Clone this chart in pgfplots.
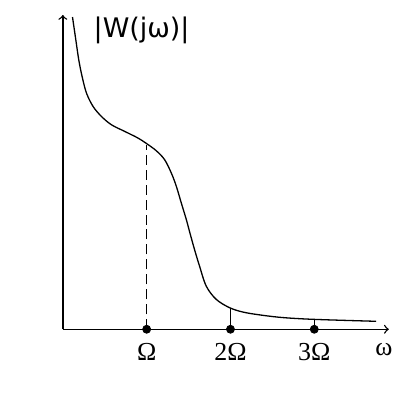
\documentclass[border=0pt]{standalone}
\usepackage{pgfplots}
\pgfplotsset{compat=1.18}
\usepackage{fontspec}
\setmainfont{Liberation Serif}
\newfontfamily\sansf{DejaVu Sans}
\begin{document}
\begin{tikzpicture}
\begin{axis}[
  x=42pt, y=42pt,
  xmin=0, xmax=3.89, ymin=0, ymax=3.75,
  axis lines=left,
  axis line style={line width=0.7pt, -to},
  xtick=\empty, ytick=\empty,
  clip=false,
]
\path (axis cs:-0.75,-0.75) rectangle (axis cs:4.0,3.929);
\addplot[black, line width=0.65pt, smooth, tension=0.55] coordinates {
(0.115,3.726) (0.155,3.452) (0.19,3.214) (0.23,3.015) (0.282,2.818)
(0.361,2.658) (0.461,2.539) (0.580,2.440) (0.738,2.361) (0.896,2.282)
(1.0,2.215) (1.115,2.130) (1.214,2.024) (1.294,1.865) (1.354,1.706)
(1.413,1.508) (1.473,1.310) (1.512,1.165) (1.571,0.952) (1.631,0.754)
(1.711,0.515) (1.830,0.357) (1.988,0.258) (2.146,0.206) (2.345,0.172)
(2.619,0.14) (3.0,0.118) (3.738,0.095)
};
\addplot[black, line width=0.7pt, dash pattern=on 5pt off 2.5pt] coordinates {(1,0) (1,2.2)};
\addplot[black, line width=0.65pt] coordinates {(2,0) (2,0.255)};
\addplot[black, line width=0.65pt] coordinates {(3,0) (3,0.118)};
\addplot[black, only marks, mark=*, mark size=2pt] coordinates {(1,0) (2,0) (3,0)};
\node[font=\fontsize{13}{15}\selectfont] at (axis cs:1,-0.27) {Ω};
\node[font=\fontsize{13}{15}\selectfont] at (axis cs:2,-0.27) {2Ω};
\node[font=\fontsize{13}{15}\selectfont] at (axis cs:3,-0.27) {3Ω};
\node[font=\fontsize{13}{15}\selectfont] at (axis cs:3.83,-0.24) {ω};
\node[font=\sansf\fontsize{13.5}{16}\selectfont] at (axis cs:0.94,3.57) {|W(jω)|};
\end{axis}
\end{tikzpicture}
\end{document}
